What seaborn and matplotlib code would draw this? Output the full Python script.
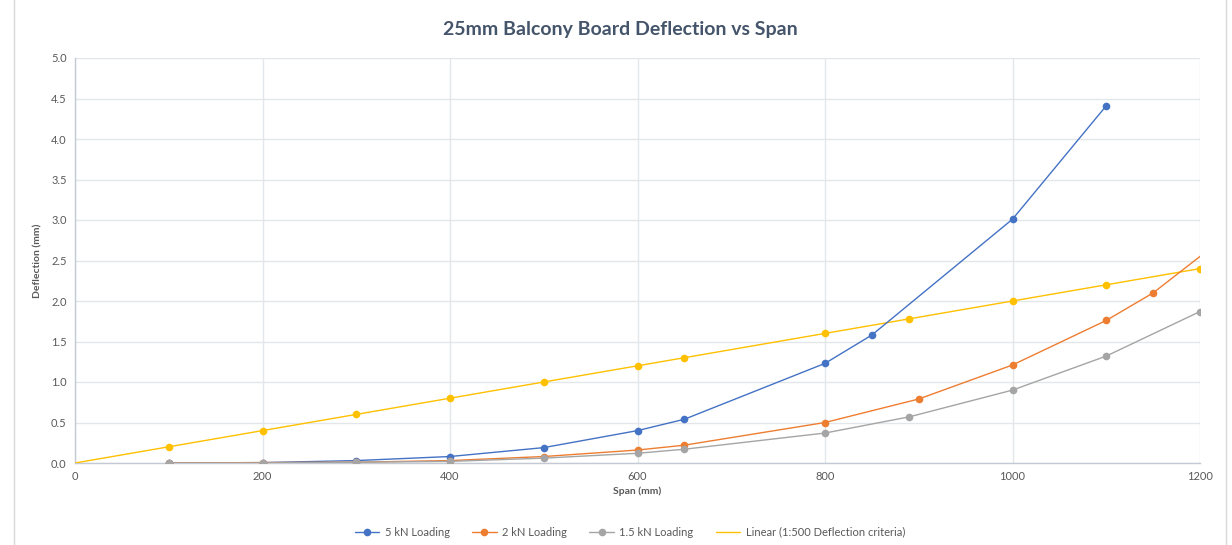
import matplotlib

matplotlib.use("Agg")
import matplotlib.pyplot as plt
import pandas as pd
import seaborn as sns
from matplotlib.lines import Line2D
from matplotlib.patches import Rectangle

# span (mm) and deflection (mm) per load case
span_5kn = [100, 200, 300, 400, 500, 600, 650, 800, 850, 1000, 1100]
defl_5kn = [0.0, 0.005, 0.03, 0.08, 0.19, 0.40, 0.54, 1.23, 1.58, 3.01, 4.41]

span_2kn = [100, 200, 300, 400, 500, 600, 650, 800, 900, 1000, 1100, 1150, 1250]
defl_2kn = [0.0, 0.005, 0.01, 0.03, 0.08, 0.16, 0.22, 0.50, 0.79, 1.21, 1.76, 2.10, 3.00]

span_15kn = [100, 200, 300, 400, 500, 600, 650, 800, 890, 1000, 1100, 1200]
defl_15kn = [0.0, 0.0, 0.01, 0.02, 0.06, 0.12, 0.17, 0.37, 0.57, 0.90, 1.32, 1.87]

span_limit = [100, 200, 300, 400, 500, 600, 650, 800, 890, 1000, 1100, 1200]
defl_limit = [0.20, 0.40, 0.60, 0.80, 1.00, 1.20, 1.30, 1.60, 1.78, 2.00, 2.20, 2.40]

trend_span = [0, 1200]
trend_defl = [0.0, 2.40]

BLUE = "#4472C4"
ORANGE = "#ED7D31"
GREY = "#A5A5A5"
YELLOW = "#FFC000"
TEXT = "#595959"
MS = 5.5

sns.set_theme(style="white")
plt.rcParams.update({"font.family": ["Lato", "DejaVu Sans"]})

fig = plt.figure(figsize=(12.32, 5.45), dpi=100)
ax = fig.add_axes([75 / 1232, 1 - 463 / 545, 1125 / 1232, 405 / 545])

fig.patches.append(Rectangle((14 / 1232, -0.01), 1212 / 1232, 1.05, transform=fig.transFigure,
                             fill=False, edgecolor="#D9D9D9", linewidth=1))

series = [
    (span_5kn, defl_5kn, BLUE),
    (span_2kn, defl_2kn, ORANGE),
    (span_15kn, defl_15kn, GREY),
]

sns.lineplot(x=trend_span, y=trend_defl, ax=ax, color=YELLOW, linewidth=1.0, zorder=3)
sns.lineplot(x=span_limit, y=defl_limit, ax=ax, color=YELLOW, linewidth=0, marker="o",
             markersize=MS, markeredgewidth=0, zorder=4)
for xs, ys, col in series:
    df = pd.DataFrame({"span": xs, "defl": ys})
    sns.lineplot(data=df, x="span", y="defl", ax=ax, color=col, linewidth=1.0, marker="o",
                 markersize=MS, markeredgewidth=0, sort=False, zorder=5)

ax.set_xlim(0, 1200)
ax.set_ylim(0, 5.0)
ax.set_xticks(range(0, 1201, 200))
ax.set_yticks([i * 0.5 for i in range(11)])
ax.set_yticklabels([f"{i * 0.5:.1f}" for i in range(11)])
ax.grid(True, color="#E3E6EA", linewidth=1)
ax.set_axisbelow(True)
for side in ["top", "right"]:
    ax.spines[side].set_visible(False)
for side in ["left", "bottom"]:
    ax.spines[side].set_color("#C3CAD6")
    ax.spines[side].set_linewidth(1)
ax.tick_params(axis="both", length=0, labelsize=8, colors=TEXT, pad=6)

ax.set_xlabel("Span (mm)", fontsize=7.5, fontweight="bold", color=TEXT, labelpad=3)
ax.set_ylabel("Deflection (mm)", fontsize=7.5, fontweight="bold", color=TEXT, labelpad=6)
fig.text(620 / 1232, 1 - 29 / 545, "25mm Balcony Board Deflection vs Span", ha="center",
         va="center", fontsize=14, fontweight="bold", color="#44546A")

handles = [
    Line2D([], [], color=BLUE, marker="o", markersize=MS, markeredgewidth=0, linewidth=1),
    Line2D([], [], color=ORANGE, marker="o", markersize=MS, markeredgewidth=0, linewidth=1),
    Line2D([], [], color=GREY, marker="o", markersize=MS, markeredgewidth=0, linewidth=1),
    Line2D([], [], color=YELLOW, linewidth=1),
]
labels = ["5 kN Loading", "2 kN Loading", "1.5 kN Loading", "Linear (1:500 Deflection criteria)"]
fig.legend(handles, labels, loc="center", bbox_to_anchor=(630 / 1232, 1 - 532 / 545), ncol=4,
           frameon=False, fontsize=8, handlelength=2.2, handletextpad=0.5, columnspacing=2.0,
           labelcolor=TEXT)

fig.savefig("out.png", dpi=100)
